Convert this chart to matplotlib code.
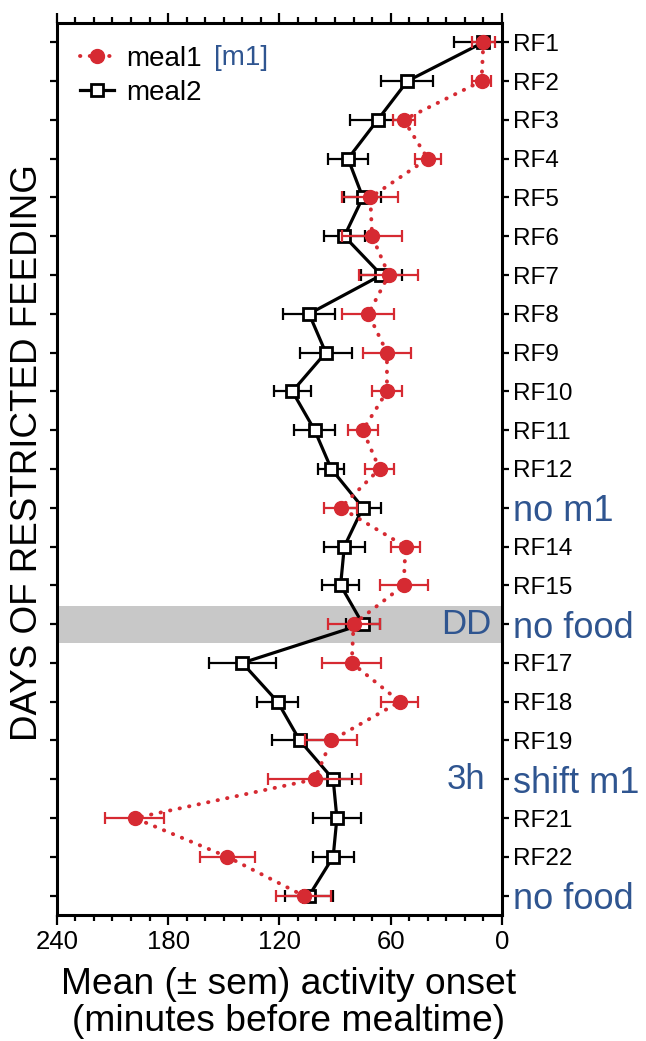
import matplotlib
matplotlib.use('Agg')
import matplotlib.pyplot as plt
from matplotlib.ticker import MultipleLocator

plt.rcParams['font.family'] = ['Liberation Sans', 'DejaVu Sans']

# rows RF1..RF23, top to bottom
days = list(range(1, 24))
row_labels = ['RF1', 'RF2', 'RF3', 'RF4', 'RF5', 'RF6', 'RF7', 'RF8', 'RF9', 'RF10',
              'RF11', 'RF12', 'no m1', 'RF14', 'RF15', 'no food', 'RF17', 'RF18',
              'RF19', 'shift m1', 'RF21', 'RF22', 'no food']
blue_rows = ['no m1', 'no food', 'shift m1']

# minutes before mealtime
meal1 = [10, 11, 53, 40, 71, 70, 61, 72, 62, 62, 75, 66, 87, 52, 53, 80, 81, 55,
         92, 101, 198, 148, 107]
meal1_sem = [6, 5, 6, 7, 15, 16, 16, 14, 13, 8, 8, 8, 9, 8, 13, 14, 16, 10, 14,
             25, 16, 15, 15]
meal2 = [10, 51, 67, 83, 75, 85, 65, 104, 95, 113, 101, 92, 75, 85, 87, 75, 140,
         121, 109, 91, 89, 91, 104]
meal2_sem = [16, 14, 15, 11, 10, 11, 11, 14, 14, 10, 11, 7, 10, 11, 10, 9, 18, 11,
             15, 10, 13, 11, 13]

red = '#d62a32'
blue = '#2f5590'

fig = plt.figure(figsize=(6.46, 10.41), dpi=100)
ax = fig.add_axes([0.088, 0.121, 0.689, 0.857])

# DD band (row 16)
ax.axhspan(15.52, 16.48, color='#c8c8c8', lw=0, zorder=0)

# meal2: black line, open squares
ax.errorbar(meal2, days, xerr=meal2_sem, fmt='none', ecolor='black',
            elinewidth=1.6, capsize=4, capthick=1.6, zorder=2)
l2, = ax.plot(meal2, days, '-', color='black', lw=2.3, marker='s', ms=8.5,
              mfc='white', mec='black', mew=2, zorder=3, label='meal2')

# meal1: red dotted line, filled dots
ax.errorbar(meal1, days, xerr=meal1_sem, fmt='none', ecolor=red,
            elinewidth=1.6, capsize=4, capthick=1.6, zorder=4)
l1, = ax.plot(meal1, days, color=red, lw=2.8, ls=(0, (0.1, 2.4)),
              dash_capstyle='round', marker='o', ms=10, mec=red, mfc=red,
              zorder=5, label='meal1')

ax.set_xlim(240, 0)
ax.set_ylim(23.5, 0.5)
ax.xaxis.set_major_locator(MultipleLocator(60))
ax.xaxis.set_minor_locator(MultipleLocator(10))
ax.set_yticks(days)
ax.set_yticklabels(row_labels)

ax.tick_params(axis='x', which='both', direction='out', top=True, bottom=True,
               labeltop=False, width=1.6, labelsize=18.5)
ax.tick_params(axis='x', which='major', length=7)
ax.tick_params(axis='x', which='minor', length=4.5)
ax.tick_params(axis='y', direction='out', left=True, right=True, labelleft=False,
               labelright=True, length=5, width=1.6, pad=3, labelsize=17.5)
for lab in ax.get_yticklabels():
    if lab.get_text() in blue_rows:
        lab.set_color(blue)
        lab.set_fontsize(26)

for s in ax.spines.values():
    s.set_linewidth(2.2)

# labels inside the axes next to the right spine
ax.text(0.977, 16, 'DD', transform=ax.get_yaxis_transform(), ha='right',
        va='center', fontsize=25, color=blue)
ax.text(0.963, 20, '3h', transform=ax.get_yaxis_transform(), ha='right',
        va='center', fontsize=25, color=blue)

leg = ax.legend(handles=[l1, l2], loc='upper left', bbox_to_anchor=(0.015, 0.993),
                frameon=False, fontsize=20, handlelength=1.2, handletextpad=0.45,
                labelspacing=0.28, borderaxespad=0.2)
ax.text(0.352, 0.9605, '[m1]', transform=ax.transAxes, ha='left', va='center',
        fontsize=20, color=blue)

ax.set_xlabel('Mean (± sem) activity onset\n(minutes before mealtime)',
              fontsize=26.8, linespacing=1.1)
ax.xaxis.set_label_coords(0.52, -0.058)
ax.xaxis.label.set_verticalalignment('top')

fig.text(0.042, 0.565, 'DAYS OF RESTRICTED FEEDING', rotation=90, ha='center',
         va='center', fontsize=26.5)

fig.savefig('out.png', dpi=100)
